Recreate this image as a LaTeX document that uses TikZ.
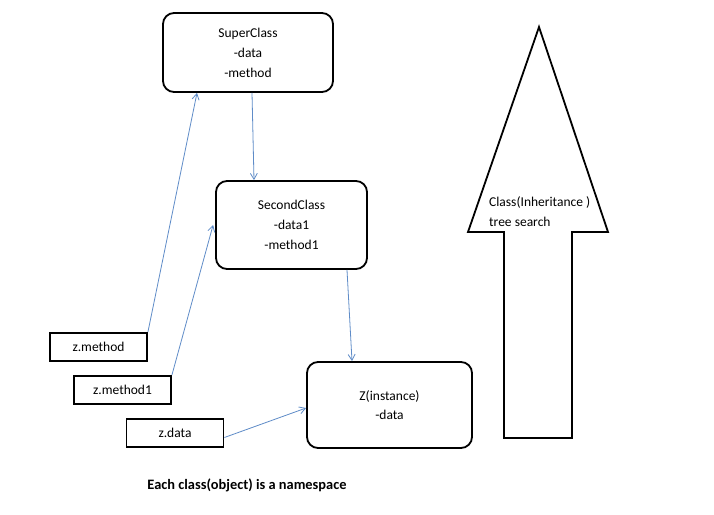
\documentclass[tikz,border=0pt]{standalone}
\usepackage{fontspec}
\setmainfont{Carlito}
\usetikzlibrary{arrows.meta}
\definecolor{linkblue}{RGB}{95,140,200}
\tikzset{
  cls/.style={draw=black, line width=1.8pt, rounded corners=11pt, align=center, font=\fontsize{13.5}{20}\selectfont},
  ref/.style={draw=black, line width=1.8pt, font=\fontsize{13.5}{16}\selectfont, minimum width=97pt, minimum height=28pt, inner sep=0pt},
  link/.style={draw=linkblue, line width=0.8pt, -{Straight Barb[length=6pt,width=7pt]}},
  blockarrow/.style={draw=black, line width=1.8pt, fill=white},
  plain/.style={font=\fontsize{13.5}{20}\selectfont, inner sep=0pt}
}
\begin{document}
\begin{tikzpicture}[x=1pt,y=-1pt]
\useasboundingbox[fill=white] (0,0) rectangle (714,514);
% class boxes
\node[cls, minimum width=170pt, minimum height=79pt] (super) at (248,52.5) {SuperClass\\-data\\-method};
\node[cls, minimum width=151pt, minimum height=88pt] (second) at (291.5,225) {SecondClass\\-data1\\-method1};
\node[cls, minimum width=165pt, minimum height=86pt, font=\fontsize{13.5}{19}\selectfont] (z) at (389.5,405) {Z(instance)\\-data};
% reference boxes
\node[ref] (zm) at (98.5,347) {z.method};
\node[ref] (zm1) at (122.5,390) {z.method1};
\node[ref] (zd) at (175,433) {z.data};
% connectors
\draw[link] ([xshift=4pt]super.south) -- ([xshift=-37.5pt]second.north);
\draw[link] ([xshift=55.5pt]second.south) -- ([xshift=-37.5pt]z.north);
\draw[link] (zm.north east) -- ([xshift=-51pt]super.south);
\draw[link] (zm1.north east) -- ([xshift=-2pt]second.west);
\draw[link] ([yshift=-4.5pt]zd.east) -- ([yshift=-3pt]z.west);
% block arrow
\draw[blockarrow] (504,438) -- (504,232) -- (468,232) -- (539,27) -- (608,232) -- (572,232) -- (572,438) -- cycle;
\node[plain, anchor=west, align=left] (tree) at (489,212) {Class(Inheritance )\\tree search};
% caption
\node[plain, font=\fontsize{14.4}{16}\selectfont\bfseries] (caption) at (247,485) {Each class(object) is a namespace};
\end{tikzpicture}
\end{document}
